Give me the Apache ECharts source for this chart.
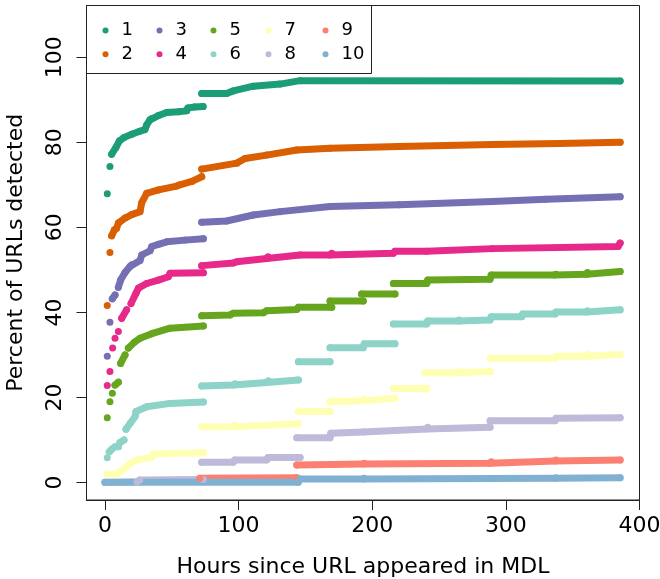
<!DOCTYPE html>
<html>
<head>
<meta charset="utf-8">
<title>Percent of URLs detected</title>
<script src="https://cdn.jsdelivr.net/npm/echarts@6.0.0/dist/echarts.min.js"></script>
<style>
  html, body { margin: 0; padding: 0; background: #fff; }
  #myChart { width: 660px; height: 579px; }
</style>
</head>
<body>
<div id="myChart"></div>
<script>
// series names and colours
const names = ['1', '2', '3', '4', '5', '6', '7', '8', '9', '10']
const colors = ['#1B9E77', '#D95F02', '#7570B3', '#E7298A', '#66A61E',
  '#8DD3C7', '#FFFFB3', '#BEBADA', '#FB8072', '#80B1D3']
const xTicks = [0, 100, 200, 300, 400]
const yTicks = [0, 20, 40, 60, 80, 100]

// each series: runs of [hours, percent]
const s1 = [
  [[1.7, 67.9]],
  [[3.7, 74.3]],
  [[5.0, 77.2], [8.2, 78.8], [10.7, 80.3], [14, 81.1], [20, 81.9], [26, 82.6], [29.9, 83.0], [31.2, 84.1],
    [33.7, 85.3], [35, 85.6], [40, 86.3], [46.2, 87.0], [55, 87.2], [61.2, 87.4], [62, 88.1], [67, 88.3], [73.4, 88.4]],
  [[72.4, 91.5], [91, 91.5], [96, 92.1], [111, 93.2], [131, 93.7], [146, 94.5], [385.5, 94.4]]
]
const s2 = [
  [[1.7, 41.6]],
  [[3.7, 54.1]],
  [[5.0, 58.0], [7, 59.4], [8.7, 59.8], [10, 61.0], [15, 62.2], [20, 63.0], [26.2, 63.7], [27.5, 65.8],
    [31.2, 68.0], [40, 68.8], [53.7, 69.7], [56, 70.0], [65, 70.8], [72.4, 71.9]],
  [[72.4, 73.7], [98.6, 75.1], [104.8, 76.2], [121, 77.0], [143.5, 78.2], [168.4, 78.6], [220, 79.0],
    [290, 79.5], [340, 79.7], [385.5, 80.0]]
]
const s3 = [
  [[1.7, 29.7]],
  [[3.7, 37.7]],
  [[5.5, 43.2], [7.5, 44.1]],
  [[10, 45.9], [11.7, 47.6], [15, 49.4], [18.7, 50.8], [20, 51.2], [26.2, 52.2], [27.5, 53.5], [33.7, 54.5],
    [35, 55.5], [40, 56.0], [46.2, 56.6], [60, 57.0], [73.6, 57.3]],
  [[72.4, 61.2], [91, 61.5], [111, 62.9], [131, 63.7], [168.4, 64.9], [220, 65.3], [290, 66.1], [330, 66.6], [385.5, 67.2]]
]
const s4 = [
  [[1.7, 22.8]],
  [[3.7, 26.1]],
  [[5.7, 31.6]],
  [[7.5, 33.9]],
  [[10, 35.5]],
  [[12.5, 38.6], [16.2, 40.6]],
  [[19.5, 42.1], [23.2, 44.5], [25, 45.7], [31.2, 46.8], [40, 47.6], [47.4, 48.4], [48.7, 49.2], [73.6, 49.3]],
  [[72.4, 51.0], [96, 51.6], [98.6, 51.9], [121, 52.7], [122, 53.1], [146, 53.5], [168.4, 53.5], [169.7, 53.9],
    [215.8, 53.9], [217, 54.4], [240.8, 54.4], [290, 55.0], [384, 55.5], [385.5, 56.3]]
]
const s5 = [
  [[1.7, 15.2]],
  [[3.7, 19.0]],
  [[5.5, 21.0]],
  [[7.5, 22.9], [10, 23.6]],
  [[11.7, 28.0], [15, 30.0]],
  [[17.5, 31.6], [22, 33.0], [26.2, 33.9], [35, 35.0], [48.7, 36.3], [73.6, 36.8]],
  [[72.4, 39.2], [93.6, 39.4], [96, 39.8], [118.5, 39.9], [121, 40.4], [143.5, 40.7], [144.7, 41.2], [169.7, 41.2]],
  [[168.4, 42.7], [193.3, 42.7]],
  [[192, 44.3], [217, 44.3]],
  [[215.8, 46.8], [240.8, 46.8], [241.5, 47.6], [288.2, 47.8], [289, 48.8], [336.8, 48.8], [337.5, 49.0],
    [360.5, 49.0], [361, 49.4], [385.5, 49.6]]
]
const s6 = [
  [[1.7, 5.8]],
  [[3.2, 7.2], [5, 7.8], [7.5, 8.4], [10, 8.4]],
  [[11.2, 9.4], [14.2, 10.0]],
  [[15.7, 12.5], [19, 14.0], [22.5, 15.5], [23.2, 16.7], [31.2, 17.8], [48.7, 18.6], [73.6, 18.9]],
  [[72.4, 22.7], [96, 22.9], [97.3, 23.2], [121, 23.5], [122.2, 23.9], [144.7, 24.1]],
  [[144.7, 28.4], [168.4, 28.4]],
  [[168.4, 31.7], [193.3, 31.7], [194, 32.6], [217, 32.6]],
  [[215.8, 37.3], [240.8, 37.3], [241.5, 38.0], [264.5, 38.0], [265, 38.2], [288.2, 38.2], [289, 39.0],
    [311.9, 39.0], [312.5, 39.6], [336.8, 39.6], [337.5, 40.1], [360.5, 40.1], [361, 40.4], [385.5, 40.6]]
]
const s7 = [
  [[1.7, 2.0], [8.7, 2.0], [11.2, 2.5], [16.2, 3.7], [18.7, 4.5], [23.7, 5.3], [35, 5.9], [36.2, 6.7], [73.6, 7.0]],
  [[72.4, 13.1], [96, 13.1], [97.3, 13.5], [144.7, 13.8]],
  [[144.7, 16.7], [168.4, 16.7]],
  [[168.4, 19.0], [193.3, 19.2], [194, 19.6], [217, 19.8]],
  [[215.8, 22.1], [240.8, 22.1]],
  [[239.5, 25.8], [264.5, 25.8], [265, 26.1], [288.2, 26.1]],
  [[288.2, 29.2], [336.8, 29.2], [337.5, 29.7], [360.5, 29.7], [361, 30.1], [385.5, 30.1]]
]
const s8 = [
  [[0, 0], [24, 0.2], [26, 0.6], [73.6, 0.7]],
  [[72.4, 4.75], [96, 4.75], [97, 5.3], [121, 5.3], [122, 5.9], [146, 5.9]],
  [[143.5, 10.5], [168.4, 10.5], [169, 11.6], [193.3, 11.9], [217, 12.2], [240.8, 12.6], [241.5, 13.0], [288.2, 13.0]],
  [[288.2, 14.5], [336.8, 14.5], [337.5, 15.1], [385.5, 15.2]]
]
const s9 = [
  [[71, 1.0], [143.5, 1.1]],
  [[143.5, 4.1], [193.3, 4.35], [194, 4.5], [288.2, 4.5], [289, 4.9], [336.8, 5.05], [337.5, 5.3], [385.5, 5.3]]
]
const s10 = [
  [[0, 0.05], [144.7, 0.05], [146, 0.8], [193.3, 0.8], [194, 1.0], [336.8, 1.0], [337.5, 1.1], [385.5, 1.1]]
]
const allSeries = [s1, s2, s3, s4, s5, s6, s7, s8, s9, s10]

let myChart = echarts.init(document.getElementById('myChart'), null, { renderer: 'canvas' })
const font = 'DejaVu Sans'

// one line series per run, so gaps stay open
const seriesData = []
for (let i = 0; i < allSeries.length; i++) {
  allSeries[i].forEach(run => {
    seriesData.push({
      name: names[i],
      type: 'line',
      data: run,
      symbol: 'circle',
      symbolSize: 7,
      showSymbol: true,
      silent: true,
      itemStyle: { color: colors[i], borderWidth: 0 },
      lineStyle: { color: colors[i], width: 7, cap: 'round', join: 'round' }
    })
  })
}

// legend: 5 columns x 2 rows filled by column, one legend per entry
const colLeft = [102.5, 156.5, 210.5, 265.5, 322.5]
const rowTop = [21.5, 45.2]
const legendList = names.map((n, i) => ({
  left: colLeft[Math.floor(i / 2)],
  top: rowTop[i % 2],
  data: [n],
  icon: 'circle',
  itemWidth: 22,
  itemHeight: 6,
  padding: 0,
  selectedMode: false,
  textStyle: { fontSize: 18, color: '#000', fontFamily: font }
}))

myChart.setOption({
  animation: false,
  backgroundColor: '#fff',
  grid: {
    left: 86.5,
    right: 20.5,
    top: 5.5,
    bottom: 79,
    containLabel: false,
    outerBoundsMode: 'none',
    show: true,
    borderColor: '#222',
    borderWidth: 1
  },
  legend: legendList,
  graphic: [{
    type: 'rect',
    shape: { x: 86.5, y: 5.5, width: 285, height: 68 },
    style: { fill: null, stroke: '#222', lineWidth: 1 },
    silent: true
  }],
  xAxis: {
    type: 'value',
    min: -13.84,
    max: 400,
    name: 'Hours since URL appeared in MDL',
    nameLocation: 'middle',
    nameGap: 56,
    nameTextStyle: { fontSize: 22, color: '#000', fontFamily: font },
    axisLine: { show: true, onZero: false, lineStyle: { color: '#222' } },
    axisTick: { show: true, length: 10, customValues: xTicks, lineStyle: { color: '#222' } },
    axisLabel: { customValues: xTicks, fontSize: 22, color: '#000', margin: 15, fontFamily: font },
    splitLine: { show: false }
  },
  yAxis: {
    type: 'value',
    min: -4.12,
    max: 112.18,
    name: 'Percent of URLs detected',
    nameLocation: 'middle',
    nameGap: 59,
    nameTextStyle: { fontSize: 22, color: '#000', fontFamily: font },
    axisLine: { show: true, onZero: false, lineStyle: { color: '#222' } },
    axisTick: { show: true, length: 10, customValues: yTicks, lineStyle: { color: '#222' } },
    axisLabel: { customValues: yTicks, rotate: 90, fontSize: 22, color: '#000', margin: 20, fontFamily: font },
    splitLine: { show: false }
  },
  series: seriesData
})
</script>
</body>
</html>
